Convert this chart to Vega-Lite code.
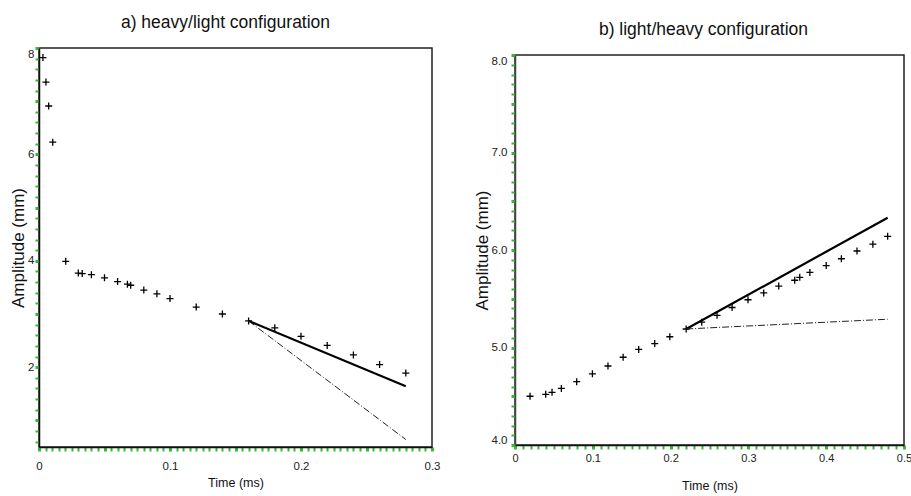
{
  "$schema": "https://vega.github.io/schema/vega-lite/v6.json",
  "padding": {"left": 8, "top": 13, "right": 1, "bottom": 0},
  "spacing": 31,
  "config": {
    "font": "Liberation Sans",
    "view": {"stroke": "#222", "strokeWidth": 1.5},
    "title": {"fontSize": 17.5, "fontWeight": "normal", "color": "#111", "font": "Liberation Sans"},
    "axis": {
      "grid": false,
      "domainColor": "#111",
      "domainWidth": 1.5,
      "tickColor": "#33bb33",
      "labelFont": "Liberation Sans",
      "labelFontSize": 11.5,
      "labelColor": "#222",
      "labelOverlap": false,
      "labelFlush": false,
      "titleFont": "Liberation Sans",
      "titleFontWeight": "normal",
      "titleColor": "#111"
    }
  },
  "hconcat": [
    {
      "width": 393,
      "height": 399,
      "title": {"text": "a) heavy/light configuration", "dx": -10, "offset": 15},
      "data": {"values": [
        {"t": 0.003, "amp": 7.82, "type": "data"},
        {"t": 0.0053, "amp": 7.36, "type": "data"},
        {"t": 0.0074, "amp": 6.91, "type": "data"},
        {"t": 0.0105, "amp": 6.23, "type": "data"},
        {"t": 0.0204, "amp": 3.99, "type": "data"},
        {"t": 0.030, "amp": 3.77, "type": "data"},
        {"t": 0.033, "amp": 3.76, "type": "data"},
        {"t": 0.040, "amp": 3.74, "type": "data"},
        {"t": 0.050, "amp": 3.68, "type": "data"},
        {"t": 0.060, "amp": 3.61, "type": "data"},
        {"t": 0.0675, "amp": 3.56, "type": "data"},
        {"t": 0.070, "amp": 3.54, "type": "data"},
        {"t": 0.080, "amp": 3.45, "type": "data"},
        {"t": 0.090, "amp": 3.38, "type": "data"},
        {"t": 0.100, "amp": 3.29, "type": "data"},
        {"t": 0.120, "amp": 3.13, "type": "data"},
        {"t": 0.140, "amp": 3.00, "type": "data"},
        {"t": 0.160, "amp": 2.87, "type": "data"},
        {"t": 0.180, "amp": 2.74, "type": "data"},
        {"t": 0.200, "amp": 2.58, "type": "data"},
        {"t": 0.220, "amp": 2.41, "type": "data"},
        {"t": 0.240, "amp": 2.23, "type": "data"},
        {"t": 0.260, "amp": 2.05, "type": "data"},
        {"t": 0.280, "amp": 1.89, "type": "data"},
        {"t": 0.160, "amp": 2.87, "type": "fit"},
        {"t": 0.280, "amp": 1.64, "type": "fit"},
        {"t": 0.160, "amp": 2.87, "type": "alt"},
        {"t": 0.280, "amp": 0.64, "type": "alt"}
      ]},
      "encoding": {
        "x": {
          "field": "t", "type": "quantitative",
          "scale": {"domain": [0, 0.3], "nice": false, "zero": false},
          "axis": {
            "title": "Time (ms)", "titleFontSize": 12.5, "titlePadding": 4.5,
            "tickCount": 80, "labelPadding": 9.5, "tickSize": 4,
            "labelExpr": "abs(datum.value*10-round(datum.value*10))<1e-6 ? format(datum.value,'.1~f') : ''",
            "tickWidth": {"condition": {"test": "abs(datum.value*20-round(datum.value*20))<1e-6", "value": 3}, "value": 2}
          }
        },
        "y": {
          "field": "amp", "type": "quantitative",
          "scale": {"domain": [0.5, 8], "nice": false, "zero": false},
          "axis": {
            "title": "Amplitude (mm)", "titleFontSize": 17, "titlePadding": 0,
            "tickCount": 50, "labelPadding": 1, "labelFlush": true, "tickSize": 4,
            "labelExpr": "abs(datum.value/2-round(datum.value/2))<1e-6 ? format(datum.value,'d') : ''",
            "tickWidth": {"condition": {"test": "abs(datum.value-round(datum.value))<1e-6", "value": 3}, "value": 2}
          }
        }
      },
      "layer": [
        {
          "transform": [{"filter": "datum.type === 'data'"}],
          "mark": {"type": "point", "shape": "M-1,0L1,0M0,-1L0,1", "filled": false, "stroke": "#000", "strokeWidth": 1.3, "size": 49, "opacity": 1}
        },
        {
          "transform": [{"filter": "datum.type === 'fit'"}],
          "mark": {"type": "line", "color": "#000", "strokeWidth": 2.2}
        },
        {
          "transform": [{"filter": "datum.type === 'alt'"}],
          "mark": {"type": "line", "color": "#222", "strokeWidth": 1, "strokeDash": [7, 2, 1, 2]}
        }
      ]
    },
    {
      "spacing": 3,
      "vconcat": [
        {
          "width": 389,
          "height": 1,
          "view": {"stroke": null},
          "title": {"text": "b) light/heavy configuration", "dx": -6, "offset": 10},
          "data": {"values": []},
          "mark": "point",
          "encoding": {}
        },
        {
          "width": 389,
          "height": 390,
          "data": {"values": [
            {"t": 0.0193, "amp": 4.50, "type": "data"},
            {"t": 0.0395, "amp": 4.52, "type": "data"},
            {"t": 0.0476, "amp": 4.54, "type": "data"},
            {"t": 0.0596, "amp": 4.58, "type": "data"},
            {"t": 0.0793, "amp": 4.65, "type": "data"},
            {"t": 0.0995, "amp": 4.73, "type": "data"},
            {"t": 0.1195, "amp": 4.81, "type": "data"},
            {"t": 0.139, "amp": 4.90, "type": "data"},
            {"t": 0.159, "amp": 4.98, "type": "data"},
            {"t": 0.1796, "amp": 5.04, "type": "data"},
            {"t": 0.199, "amp": 5.11, "type": "data"},
            {"t": 0.220, "amp": 5.19, "type": "data"},
            {"t": 0.240, "amp": 5.26, "type": "data"},
            {"t": 0.2597, "amp": 5.33, "type": "data"},
            {"t": 0.279, "amp": 5.41, "type": "data"},
            {"t": 0.2995, "amp": 5.49, "type": "data"},
            {"t": 0.3197, "amp": 5.56, "type": "data"},
            {"t": 0.339, "amp": 5.63, "type": "data"},
            {"t": 0.3595, "amp": 5.69, "type": "data"},
            {"t": 0.366, "amp": 5.72, "type": "data"},
            {"t": 0.379, "amp": 5.77, "type": "data"},
            {"t": 0.400, "amp": 5.84, "type": "data"},
            {"t": 0.4195, "amp": 5.91, "type": "data"},
            {"t": 0.4396, "amp": 5.99, "type": "data"},
            {"t": 0.460, "amp": 6.06, "type": "data"},
            {"t": 0.479, "amp": 6.14, "type": "data"},
            {"t": 0.220, "amp": 5.19, "type": "fit"},
            {"t": 0.479, "amp": 6.33, "type": "fit"},
            {"t": 0.220, "amp": 5.19, "type": "alt"},
            {"t": 0.479, "amp": 5.29, "type": "alt"}
          ]},
          "encoding": {
            "x": {
              "field": "t", "type": "quantitative",
              "scale": {"domain": [0, 0.5], "nice": false, "zero": false},
              "axis": {
                "title": "Time (ms)", "titleFontSize": 12.5, "titlePadding": 16,
                "tickCount": 70, "labelPadding": 3, "tickSize": 4, "labelFontSize": 11,
                "labelExpr": "abs(datum.value*10-round(datum.value*10))<1e-6 ? format(datum.value,'.1~f') : ''",
                "tickWidth": {"condition": {"test": "abs(datum.value*10-round(datum.value*10))<1e-6", "value": 3}, "value": 2}
              }
            },
            "y": {
              "field": "amp", "type": "quantitative",
              "scale": {"domain": [4, 8], "nice": false, "zero": false},
              "axis": {
                "title": "Amplitude (mm)", "titleFontSize": 17, "titlePadding": 0,
                "tickCount": 55, "labelPadding": 4, "labelFlush": true, "domainColor": "#444", "tickSize": 4,
                "labelExpr": "abs(datum.value-round(datum.value))<1e-6 ? format(datum.value,'.1f') : ''",
                "tickWidth": {"condition": {"test": "abs(datum.value*2-round(datum.value*2))<1e-6", "value": 3}, "value": 2}
              }
            }
          },
          "layer": [
            {
              "transform": [{"filter": "datum.type === 'data'"}],
              "mark": {"type": "point", "shape": "M-1,0L1,0M0,-1L0,1", "filled": false, "stroke": "#000", "strokeWidth": 1.3, "size": 49, "opacity": 1}
            },
            {
              "transform": [{"filter": "datum.type === 'fit'"}],
              "mark": {"type": "line", "color": "#000", "strokeWidth": 2.2}
            },
            {
              "transform": [{"filter": "datum.type === 'alt'"}],
              "mark": {"type": "line", "color": "#222", "strokeWidth": 1, "strokeDash": [7, 2, 1, 2]}
            }
          ]
        }
      ]
    }
  ]
}
